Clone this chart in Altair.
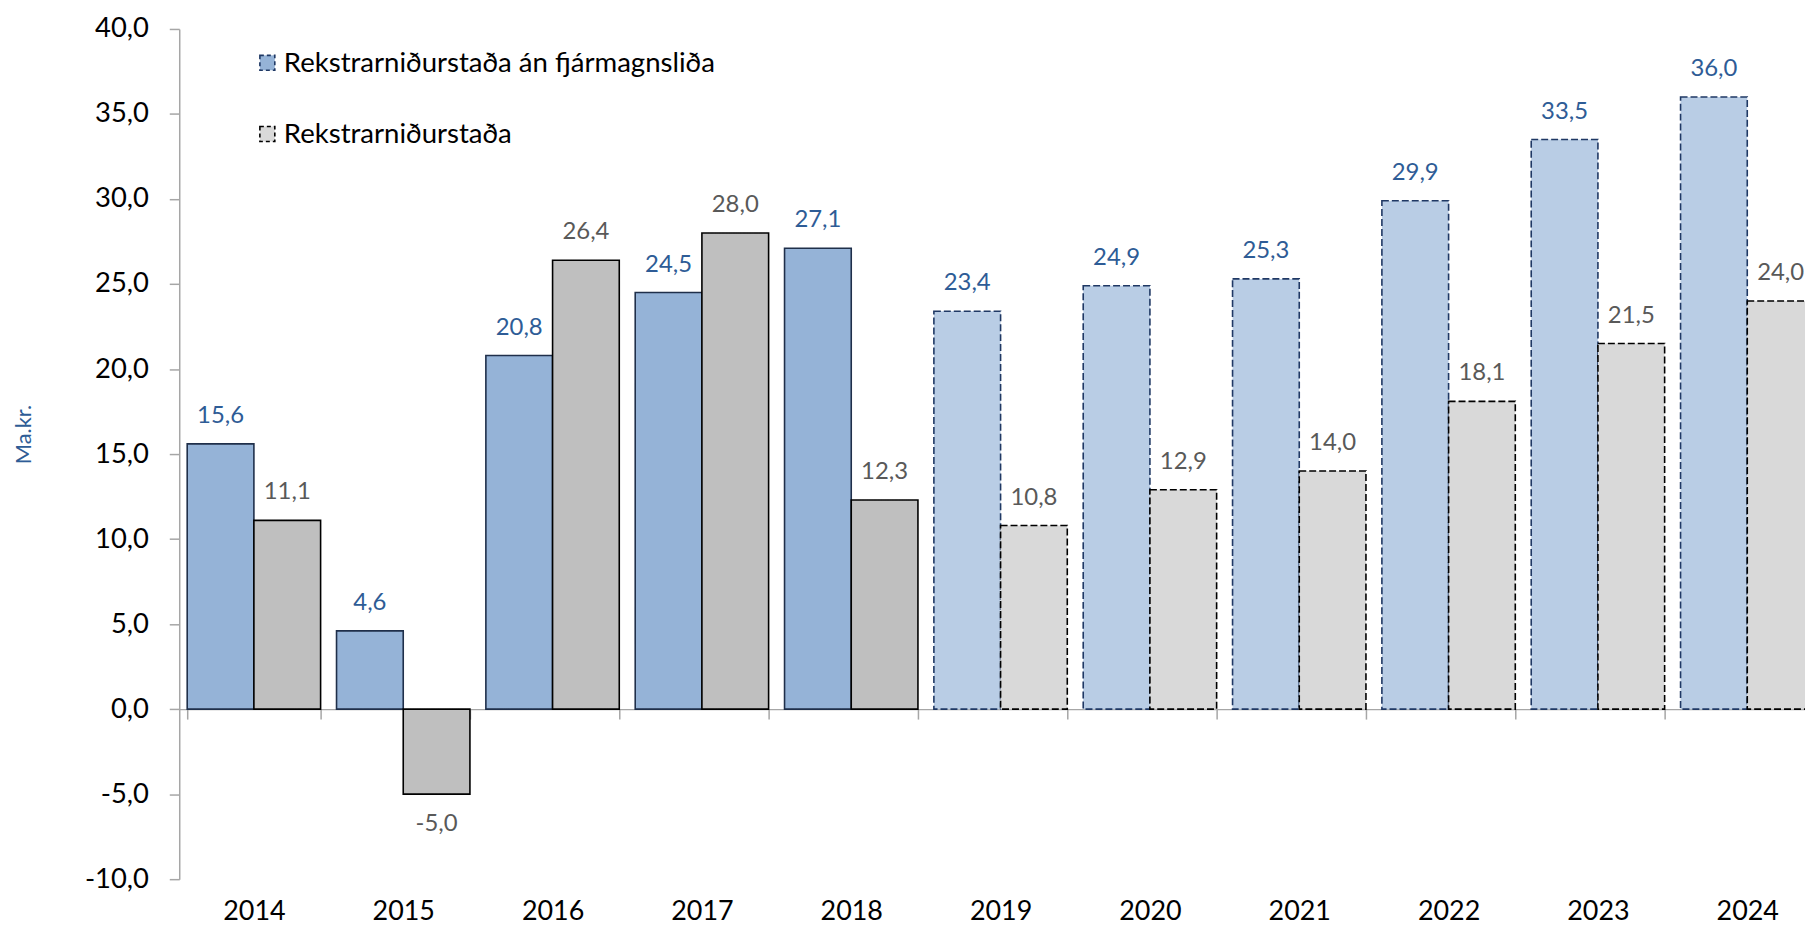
import altair as alt
import pandas as pd

# ---- data ----
years = ["2014", "2015", "2016", "2017", "2018", "2019", "2020", "2021", "2022", "2023", "2024"]
op_before_fin = [15.6, 4.6, 20.8, 24.5, 27.1, 23.4, 24.9, 25.3, 29.9, 33.5, 36.0]
op_result = [11.1, -5.0, 26.4, 28.0, 12.3, 10.8, 12.9, 14.0, 18.1, 21.5, 24.0]
forecast_years = ["2019", "2020", "2021", "2022", "2023", "2024"]
series_names = ["Rekstrarniðurstaða án fjármagnsliða", "Rekstrarniðurstaða"]
y_ticks = [-10, -5, 0, 5, 10, 15, 20, 25, 30, 35, 40]
y_title = "Ma.kr."

rows = []
for i, yr in enumerate(years):
    period = "spá" if yr in forecast_years else "raun"
    for s, vals in zip(series_names, [op_before_fin, op_result]):
        rows.append({"year": yr, "series": s, "value": vals[i], "period": period,
                     "key": s + "|" + period})
df = pd.DataFrame(rows)

# ---- layout ----
W, H = 1633, 854
FONT = "Lato"
AXIS_GRAY = "#A6A6A6"
BLUE_TXT = "#2E5C96"
GRAY_TXT = "#595959"

keys = [series_names[0] + "|raun", series_names[1] + "|raun",
        series_names[0] + "|spá", series_names[1] + "|spá"]

x_enc = alt.X(
    "year:N", sort=years, title=None,
    scale=alt.Scale(domain=years, range=[0, 1650], paddingInner=0.1067, paddingOuter=0.0533),
    axis=alt.Axis(orient="bottom", offset=-H * 0.2, domain=True, domainColor=AXIS_GRAY,
                  domainWidth=1.5, ticks=True, tickBand="extent", tickSize=10,
                  tickColor=AXIS_GRAY, tickWidth=1.5, labelAngle=0, labelFont=FONT,
                  labelFontSize=27, labelColor="#000000", labelBaseline="alphabetic",
                  labelPadding=201.8, labelOverlap=False, grid=False),
)
xoff_enc = alt.XOffset("series:N", sort=series_names,
                       scale=alt.Scale(domain=series_names, paddingInner=0, paddingOuter=0))
y_enc = alt.Y(
    "value:Q",
    scale=alt.Scale(domain=[-10, 40], nice=False),
    axis=alt.Axis(values=y_ticks, format=".1f", title=y_title, titleColor=BLUE_TXT,
                  titleFont=FONT, titleFontSize=22, titleFontWeight="normal",
                  titleAngle=-90, titleX=-156, titleY=407, titleAlign="center",
                  titleBaseline="middle", labelFont=FONT, labelFontSize=27.5,
                  labelColor="#000000", labelPadding=21, domainColor=AXIS_GRAY,
                  domainWidth=1.5, tickColor=AXIS_GRAY, tickWidth=1.5, tickSize=10,
                  grid=False),
)

bars = alt.Chart(df).mark_bar(strokeWidth=1.6).encode(
    x=x_enc, xOffset=xoff_enc, y=y_enc,
    fill=alt.Fill("key:N", scale=alt.Scale(domain=keys,
                  range=["#95B3D7", "#BFBFBF", "#B9CDE5", "#D9D9D9"]), legend=None),
    stroke=alt.Stroke("key:N", scale=alt.Scale(domain=keys,
                      range=["#1F2F4A", "#000000", "#1F3864", "#000000"]), legend=None),
    strokeDash=alt.StrokeDash("period:N", scale=alt.Scale(domain=["raun", "spá"],
                              range=[[1, 0], [7, 3]]), legend=None),
)

label_base = alt.Chart(df).encode(
    x=x_enc, xOffset=xoff_enc, y=y_enc,
    text=alt.Text("value:Q", format=".1f"),
    color=alt.Color("series:N", scale=alt.Scale(domain=series_names,
                    range=[BLUE_TXT, GRAY_TXT]), legend=None),
)
pos_labels = label_base.transform_filter("datum.value >= 0").mark_text(
    font=FONT, fontSize=24, baseline="middle", dy=-28)
neg_labels = label_base.transform_filter("datum.value < 0").mark_text(
    font=FONT, fontSize=24, baseline="middle", dy=30)

legend_fill = ["#95B3D7", "#D9D9D9"]
legend_stroke = ["#1F3864", "#000000"]
legend_layers = []
for i, name in enumerate(series_names):
    one = pd.DataFrame({"name": [name]})
    legend_layers.append(
        alt.Chart(one).mark_rect(fill=legend_fill[i], stroke=legend_stroke[i],
                                 strokeDash=[4, 3], strokeWidth=1.6).encode(
            x=alt.value(81), x2=alt.value(96),
            y=alt.value(26.5 + 71.5 * i), y2=alt.value(41.5 + 71.5 * i))
    )
    legend_layers.append(
        alt.Chart(one).mark_text(align="left", baseline="alphabetic", font=FONT,
                                 fontSize=27.7, color="#000000").encode(
            x=alt.value(105), y=alt.value(43 + 71.5 * i), text="name:N")
    )

chart = alt.layer(bars, pos_labels, neg_labels, *legend_layers).properties(
    width=W, height=H,
    autosize=alt.AutoSizeParams(type="none"),
    padding={"left": 172, "top": 19, "right": 0, "bottom": 48},
).configure(
    locale={"number": {"decimal": ",", "thousands": ".", "grouping": [3],
                       "currency": ["", ""], "minus": "-"}},
).configure_view(strokeWidth=0)

chart.save("out.html", embed_options={"renderer": "svg", "actions": False})
